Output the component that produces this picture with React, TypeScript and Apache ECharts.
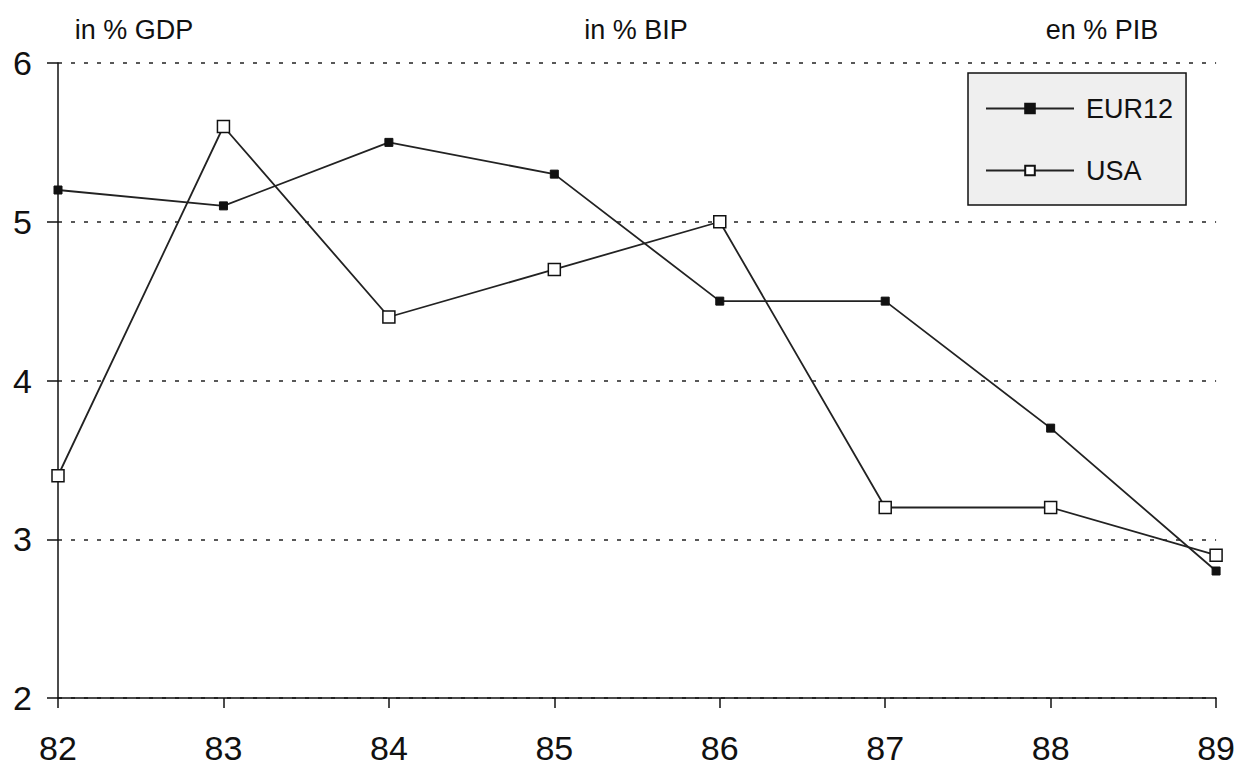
import React, { useEffect, useRef } from "react";
import * as echarts from "echarts";

const years = ["82", "83", "84", "85", "86", "87", "88", "89"];
const eur12 = [5.2, 5.1, 5.5, 5.3, 4.5, 4.5, 3.7, 2.8];
const usa = [3.4, 5.6, 4.4, 4.7, 5.0, 3.2, 3.2, 2.9];
const headings = ["in % GDP", "in % BIP", "en % PIB"];

export default function App() {
  const ref = useRef<HTMLDivElement>(null);
  useEffect(() => {
    if (!ref.current) return;
    const chart = echarts.init(ref.current, null, { renderer: "svg" });
    const font = "Liberation Sans, Arial, sans-serif";
    const titleStyle = { fontSize: 27, fontWeight: "normal", color: "#111", fontFamily: font };
    chart.setOption({
      animation: false,
      backgroundColor: "#ffffff",
      textStyle: { fontFamily: font },
      title: [
        { text: headings[0], left: 129, top: 11, textAlign: "center", textStyle: titleStyle },
        { text: headings[1], left: 631, top: 11, textAlign: "center", textStyle: titleStyle },
        { text: headings[2], left: 1097, top: 11, textAlign: "center", textStyle: titleStyle },
      ],
      legend: {
        orient: "vertical",
        left: 968,
        top: 73,
        padding: [22, 13, 21, 17],
        itemGap: 35,
        itemWidth: 88,
        itemHeight: 12,
        backgroundColor: "#efefef",
        borderColor: "#111",
        borderWidth: 1.5,
        textStyle: { fontSize: 27, color: "#111", fontFamily: font, padding: [0, 0, 0, 7] },
        data: ["EUR12", "USA"],
      },
      grid: { left: 58, right: 21, top: 63, bottom: 71, containLabel: false },
      xAxis: {
        type: "category",
        data: years,
        boundaryGap: false,
        axisLine: { lineStyle: { color: "#111", width: 1.5 } },
        axisTick: { show: true, alignWithLabel: true, length: 10, inside: false, lineStyle: { color: "#111", width: 1.5 } },
        axisLabel: { fontSize: 34, color: "#111", margin: 33, fontFamily: font },
        splitLine: { show: false },
      },
      yAxis: {
        type: "value",
        min: 2,
        max: 6,
        interval: 1,
        axisLine: { show: true, lineStyle: { color: "#111", width: 1.5 } },
        axisTick: { show: true, length: 11, lineStyle: { color: "#111", width: 1.5 } },
        axisLabel: { fontSize: 34, color: "#111", margin: 26, fontFamily: font },
        splitLine: { show: true, lineStyle: { color: "#222", width: 1.5, type: [4, 9] } },
      },
      series: [
        {
          name: "EUR12",
          type: "line",
          data: eur12,
          symbol: "rect",
          symbolSize: 8,
          showAllSymbol: true,
          lineStyle: { color: "#222", width: 1.8 },
          itemStyle: { color: "#111", borderColor: "#111", borderWidth: 1 },
        },
        {
          name: "USA",
          type: "line",
          data: usa,
          symbol: "rect",
          symbolSize: 12,
          showAllSymbol: true,
          lineStyle: { color: "#222", width: 1.8 },
          itemStyle: { color: "#fff", borderColor: "#111", borderWidth: 1.5 },
        },
      ],
    });
    return () => chart.dispose();
  }, []);
  return (
    <div
      ref={ref}
      style={{ position: "fixed", left: 0, top: 0, width: 1238, height: 769 }}
    />
  );
}
